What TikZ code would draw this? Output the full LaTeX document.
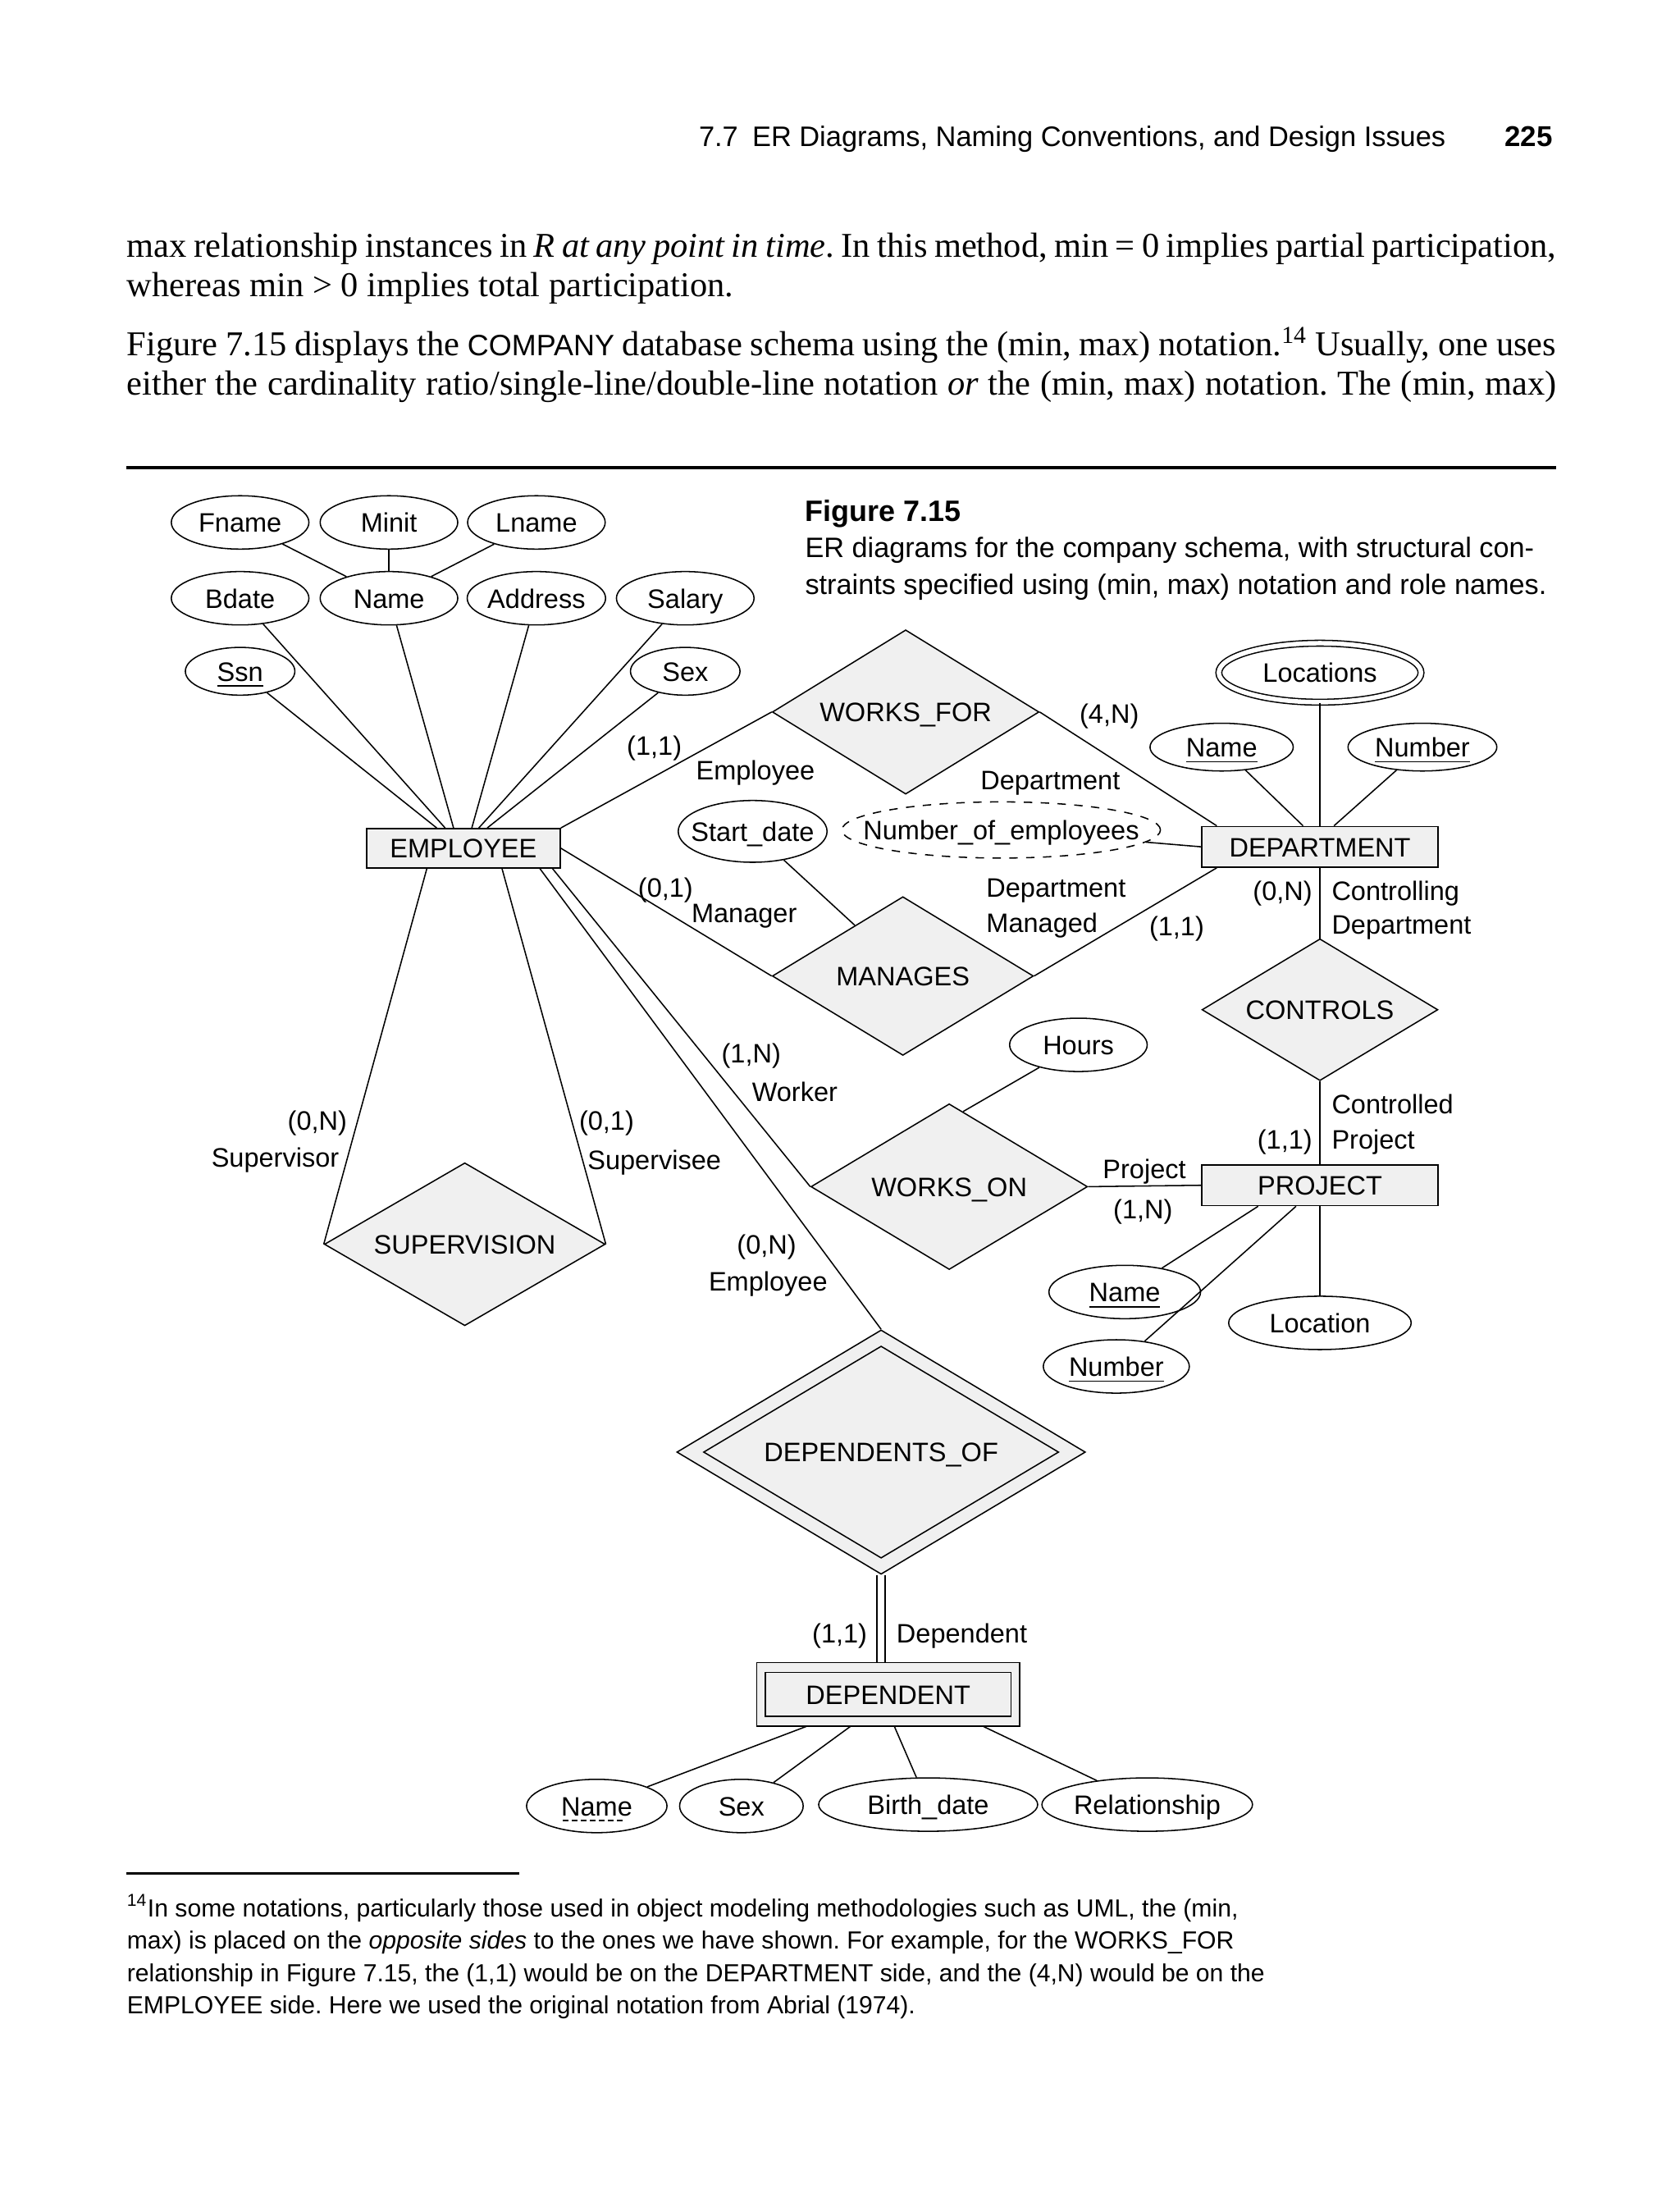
\documentclass[tikz,border=0pt]{standalone}
\usepackage{fontspec}
\setmainfont{Liberation Serif}
\setsansfont{Liberation Sans}
\usetikzlibrary{shapes.geometric,calc}

\newcommand{\erfont}{\sffamily\fontsize{9.5}{11}\selectfont}
\newcommand{\bodyline}[1]{\makebox[509pt][s]{#1}}
\newcommand{\keyul}[1]{\setbox0\hbox{#1}\rlap{\vrule height -1.5pt depth 2pt width \wd0}\box0}
\newcommand{\partul}[1]{\setbox0\hbox{#1}\rlap{\hbox to \wd0{\leaders\hbox to 3.2pt{\hss\vrule height -1.5pt depth 2pt width 2pt\hss}\hfill}}\box0}

\tikzset{
  base/.style={font=\erfont,text height=8.5pt,text depth=1.5pt},
  attr/.style={base,ellipse,draw,fill=white,inner sep=0pt,minimum height=19pt,minimum width=#1},
  attr/.default=49pt,
  multi/.style={attr=#1,double,double distance=1.6pt},
  derived/.style={attr=#1,dashed},
  entity/.style={base,rectangle,draw,fill=gray!12,inner sep=0pt,minimum width=#1,minimum height=14.5pt},
  entity/.default=84pt,
  rel/.style={base,diamond,draw,fill=gray!12,inner sep=0pt,aspect=1.7},
  lbl/.style={base,inner sep=0pt},
  body/.style={inner sep=0pt,anchor=base west,font=\fontsize{12.4}{14}\selectfont},
  foot/.style={inner sep=0pt,anchor=base west,font=\sffamily\fontsize{8.8}{11}\selectfont}
}

\begin{document}
\frenchspacing
\begin{tikzpicture}[x=0.5pt,y=-0.5pt,line width=0.45pt]
\useasboundingbox (0,0) rectangle (1196,1568);

% page head and running text
\node[lbl,font=\sffamily\fontsize{10.05}{12}\selectfont,anchor=base east] (head) at (1030,104) {7.7\enspace ER Diagrams, Naming Conventions, and Design Issues};
\node[lbl,font=\sffamily\bfseries\fontsize{10.2}{12}\selectfont,anchor=base east] (page) at (1106,104) {225};
\node[body] (l1) at (90,183) {\bodyline{max relationship instances in \textit{R at any point in time}. In this method, min = 0 implies partial participation,}};
\node[body] (l2) at (90,211) {whereas min > 0 implies total participation.};
\node[body] (l3) at (90,253) {\bodyline{Figure 7.15 displays the {\sffamily\fontsize{10.5}{12}\selectfont COMPANY} database schema using the (min, max) notation.\textsuperscript{14} Usually, one uses}};
\node[body] (l4) at (90,281) {\bodyline{either the cardinality ratio/single-line/double-line notation \textit{or} the (min, max) notation. The (min, max)}};
\draw[line width=0.9pt] (90,333) -- (1108,333);

% caption
\node[lbl,font=\sffamily\bfseries\fontsize{10.5}{12}\selectfont,anchor=base west] (fig) at (573,371) {Figure 7.15};
\node[lbl,font=\sffamily\fontsize{10}{12}\selectfont,anchor=base west] (cap1) at (573,397) {ER diagrams for the company schema, with structural con-};
\node[lbl,font=\sffamily\fontsize{10}{12}\selectfont,anchor=base west] (cap2) at (573,423) {straints specified using (min, max) notation and role names.};

% EMPLOYEE and its attributes
\node[entity=69pt,minimum height=14pt] (emp) at (330,604) {EMPLOYEE};
\node[attr] (fname) at (171,372) {Fname};
\node[attr] (minit) at (277,372) {Minit};
\node[attr] (lname) at (382,372) {Lname};
\node[attr] (bdate) at (171,426) {Bdate};
\node[attr] (ename) at (277,426) {Name};
\node[attr] (addr) at (382,426) {Address};
\node[attr] (sal) at (488,426) {Salary};
\node[attr=39pt,minimum height=17pt] (ssn) at (171,478) {\keyul{Ssn}};
\node[attr=39pt,minimum height=17pt] (esex) at (488,478) {Sex};

\foreach \a in {fname,minit,lname}
  \draw (\a) -- (ename);
\foreach \a/\dx in {ssn/-19,bdate/-13,ename/-7,addr/6,sal/11,esex/17}
  \draw (\a) -- ($(emp.north)+(\dx,0)$);

% DEPARTMENT and its attributes
\node[entity] (dept) at (940,603) {DEPARTMENT};
\node[multi=72pt,minimum height=21pt] (loc) at (940,479) {Locations};
\node[attr=51pt,minimum height=17pt] (dname) at (870,532) {\keyul{Name}};
\node[attr=53pt,minimum height=17pt] (dnum) at (1013,532) {\keyul{Number}};
\node[derived=112pt,minimum height=20pt,inner xsep=-9pt] (noe) at (713,591) {Number\_of\_employees};

\draw (loc) -- (dept.north);
\draw (dname) -- ($(dept.north)+(-12,0)$);
\draw (dnum) -- ($(dept.north)+(10,0)$);
\draw (noe) -- (dept.west);

% WORKS_FOR
\node[rel,minimum width=95pt,minimum height=58.5pt] (wf) at (645,507) {WORKS\_FOR};
\draw (emp.north east) -- (wf.west);
\draw (wf.east) -- ($(dept.north west)+(11,0)$);
\node[lbl] (wf1) at (466,531) {(1,1)};
\node[lbl] (wf2) at (538,548) {Employee};
\node[lbl] (wf3) at (790,508) {(4,N)};
\node[lbl] (wf4) at (748,555) {Department};

% MANAGES
\node[rel,minimum width=93pt,minimum height=56.5pt] (man) at (643,695) {MANAGES};
\node[attr=53pt,minimum height=22pt,inner xsep=-4.5pt] (sdate) at (536,592) {Start\_date};
\draw (emp.east) -- (man.west);
\draw (man.east) -- ($(dept.south west)+(11,0)$);
\draw (sdate) -- ($(man.north)!0.366!(man.west)$);
\node[lbl] (m1) at (474,632) {(0,1)};
\node[lbl] (m2) at (530,650) {Manager};
\node[lbl,anchor=west] (m3) at (702,632) {Department};
\node[lbl,anchor=west] (m4) at (702,657) {Managed};
\node[lbl] (m5) at (838,659) {(1,1)};

% CONTROLS
\node[rel,minimum width=84pt,minimum height=50.5pt] (ctrl) at (940,719) {CONTROLS};
\node[entity] (proj) at (940,844) {PROJECT};
\draw (dept) -- (ctrl);
\draw (ctrl) -- (proj);
\node[lbl,anchor=east] (c1) at (935,634) {(0,N)};
\node[lbl,anchor=west] (c2) at (948,634) {Controlling};
\node[lbl,anchor=west] (c3) at (948,658) {Department};
\node[lbl,anchor=west] (c4) at (948,786) {Controlled};
\node[lbl,anchor=east] (c5) at (935,811) {(1,1)};
\node[lbl,anchor=west] (c6) at (948,811) {Project};

% WORKS_ON
\node[rel,minimum width=98.5pt,minimum height=59pt] (won) at (676,845) {WORKS\_ON};
\node[attr] (hours) at (768,744) {Hours};
\draw ($(emp.south east)+(-6,0)$) -- (won.west);
\draw (won.east) -- (proj.west);
\draw (hours) -- ($(won.north)!0.1!(won.east)$);
\node[lbl] (w1) at (535,750) {(1,N)};
\node[lbl] (w2) at (566,777) {Worker};
\node[lbl] (w3) at (815,832) {Project};
\node[lbl] (w4) at (814,861) {(1,N)};

% PROJECT attributes
\node[attr=54pt] (pname) at (801,920) {\keyul{Name}};
\node[attr=52pt] (pnum) at (795,973) {\keyul{Number}};
\node[attr=65pt] (ploc) at (940,942) {Location};
\draw (pname) -- ($(proj.south)+(-44,0)$);
\draw (pnum) -- ($(proj.south)+(-17,0)$);
\draw (ploc) -- (proj);

% SUPERVISION
\node[rel,minimum width=100pt,minimum height=58pt] (sup) at (331,886) {SUPERVISION};
\draw ($(emp.south)+(-26,0)$) -- (sup.west);
\draw ($(emp.south)+(27.5,0)$) -- (sup.east);
\node[lbl] (s1) at (226,798) {(0,N)};
\node[lbl] (s2) at (196,824) {Supervisor};
\node[lbl] (s3) at (432,798) {(0,1)};
\node[lbl] (s4) at (466,826) {Supervisee};

% DEPENDENTS_OF and DEPENDENT
\node[rel,minimum width=145.5pt,minimum height=87pt] (dof) at (627.5,1034) {};
\node[rel,minimum width=126.5pt,minimum height=75.5pt] (dofin) at (627.5,1034) {DEPENDENTS\_OF};
\node[entity=93.5pt,minimum height=22.5pt] (dep) at (632.5,1206.5) {};
\node[entity=87.5pt,minimum height=15.5pt] (depin) at (632.5,1206.5) {DEPENDENT};
\draw ($(emp.south east)+(-15,0)$) -- (dof.north);
\draw[double,double distance=2.4pt] (dof.south) -- (dof.south |- dep.north);
\node[lbl] (d1) at (598,1163) {(1,1)};
\node[lbl] (d2) at (685,1163) {Dependent};
\node[lbl] (e1) at (546,886) {(0,N)};
\node[lbl] (e2) at (547,912) {Employee};

\node[attr=50pt] (dname2) at (425,1286) {\partul{Name}};
\node[attr=44pt] (dsex) at (528,1286) {Sex};
\node[attr=78pt] (bdate2) at (661,1285) {Birth\_date};
\node[attr=75pt,inner xsep=-1.5pt] (rship) at (817,1285) {Relationship};
\foreach \a/\dx in {dname2/-58.5,dsex/-27,bdate2/4.5,rship/68}
  \draw (\a) -- ($(dep.south)+(\dx,0)$);

% footnote
\draw[line width=0.6pt] (90,1334) -- (370,1334);
\node[foot] (f1) at (90,1365) {\textsuperscript{14}In some notations, particularly those used in object modeling methodologies such as UML, the (min,};
\node[foot] (f2) at (90,1388) {max) is placed on the \textit{opposite sides} to the ones we have shown. For example, for the WORKS\_FOR};
\node[foot] (f3) at (90,1411) {relationship in Figure 7.15, the (1,1) would be on the DEPARTMENT side, and the (4,N) would be on the};
\node[foot] (f4) at (90,1434) {EMPLOYEE side. Here we used the original notation from Abrial (1974).};
\end{tikzpicture}
\end{document}
